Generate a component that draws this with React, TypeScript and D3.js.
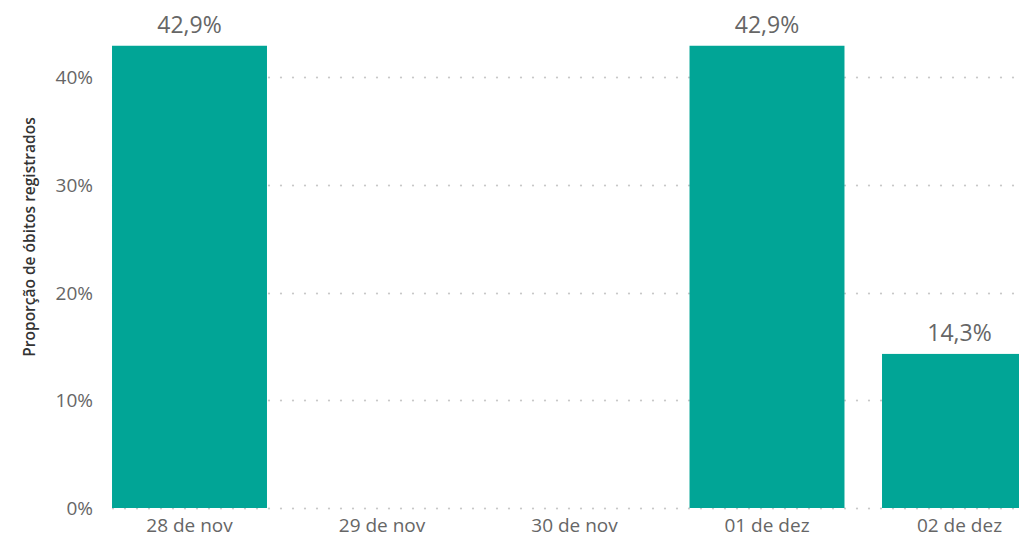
import React, { useRef, useEffect } from "react";
import { select, scaleLinear, scaleBand, range } from "d3";

const categories = ["28 de nov", "29 de nov", "30 de nov", "01 de dez", "02 de dez"];
const values = [42.9, 0, 0, 42.9, 14.3];
const yTicks = [0, 10, 20, 30, 40];
const yTitle = "Proporção de óbitos registrados";

const App: React.FC = () => {
  const ref = useRef<SVGSVGElement>(null);

  useEffect(() => {
    const width = 1019,
      height = 538;
    const svg = select(ref.current);
    svg.selectAll("*").remove();

    const top = 508;
    const yScale = scaleLinear().domain([0, 40]).range([top, 77]);
    const xScale = scaleBand<string>()
      .domain(categories)
      .range([93.25, 93.25 + 5 * 192.5])
      .paddingInner(0.195)
      .paddingOuter(0.0975);

    const fmt = (v: number) => v.toFixed(1).replace(".", ",") + "%";
    const font = "'Open Sans', sans-serif";

    // dotted gridlines
    const grid = svg.append("g");
    yTicks.forEach((t) => {
      const y = Math.round(yScale(t)) + 0.5;
      grid
        .selectAll(null)
        .data(range(113, width, 12))
        .enter()
        .append("circle")
        .attr("cx", (d) => d)
        .attr("cy", y)
        .attr("r", 1.1)
        .attr("fill", "#c8c8c8");
    });

    // y tick labels
    svg
      .append("g")
      .selectAll("text")
      .data(yTicks)
      .enter()
      .append("text")
      .attr("x", 93)
      .attr("y", (d) => yScale(d) + 7)
      .attr("text-anchor", "end")
      .attr("font-family", font)
      .attr("font-size", 19)
      .attr("fill", "#666")
      .text((d) => d + "%");

    // y title
    svg
      .append("text")
      .attr("transform", `translate(35,${237}) rotate(-90)`)
      .attr("text-anchor", "middle")
      .attr("font-family", font)
      .attr("font-size", 15.5)
      .attr("font-weight", 600)
      .attr("fill", "#333")
      .text(yTitle);

    // bars
    const data = categories.map((c, i) => ({ c, v: values[i] }));
    svg
      .append("g")
      .selectAll("rect")
      .data(data.filter((d) => d.v > 0))
      .enter()
      .append("rect")
      .attr("x", (d) => xScale(d.c)!)
      .attr("y", (d) => yScale(d.v))
      .attr("width", xScale.bandwidth())
      .attr("height", (d) => top - yScale(d.v))
      .attr("fill", "#01a596");

    // value labels
    svg
      .append("g")
      .selectAll("text")
      .data(data.filter((d) => d.v > 0))
      .enter()
      .append("text")
      .attr("x", (d) => xScale(d.c)! + xScale.bandwidth() / 2)
      .attr("y", (d) => yScale(d.v) - 13)
      .attr("text-anchor", "middle")
      .attr("font-family", font)
      .attr("font-size", 23)
      .attr("fill", "#666")
      .text((d) => fmt(d.v));

    // x labels
    svg
      .append("g")
      .selectAll("text")
      .data(categories)
      .enter()
      .append("text")
      .attr("x", (d) => xScale(d)! + xScale.bandwidth() / 2)
      .attr("y", 532)
      .attr("text-anchor", "middle")
      .attr("font-family", font)
      .attr("font-size", 19)
      .attr("fill", "#666")
      .text((d) => d);

    svg.attr("width", width).attr("height", height);
  }, []);

  return (
    <svg
      ref={ref}
      width={1019}
      height={538}
      style={{ position: "absolute", left: 0, top: 0, display: "block", background: "#fff" }}
    />
  );
};

export default App;
